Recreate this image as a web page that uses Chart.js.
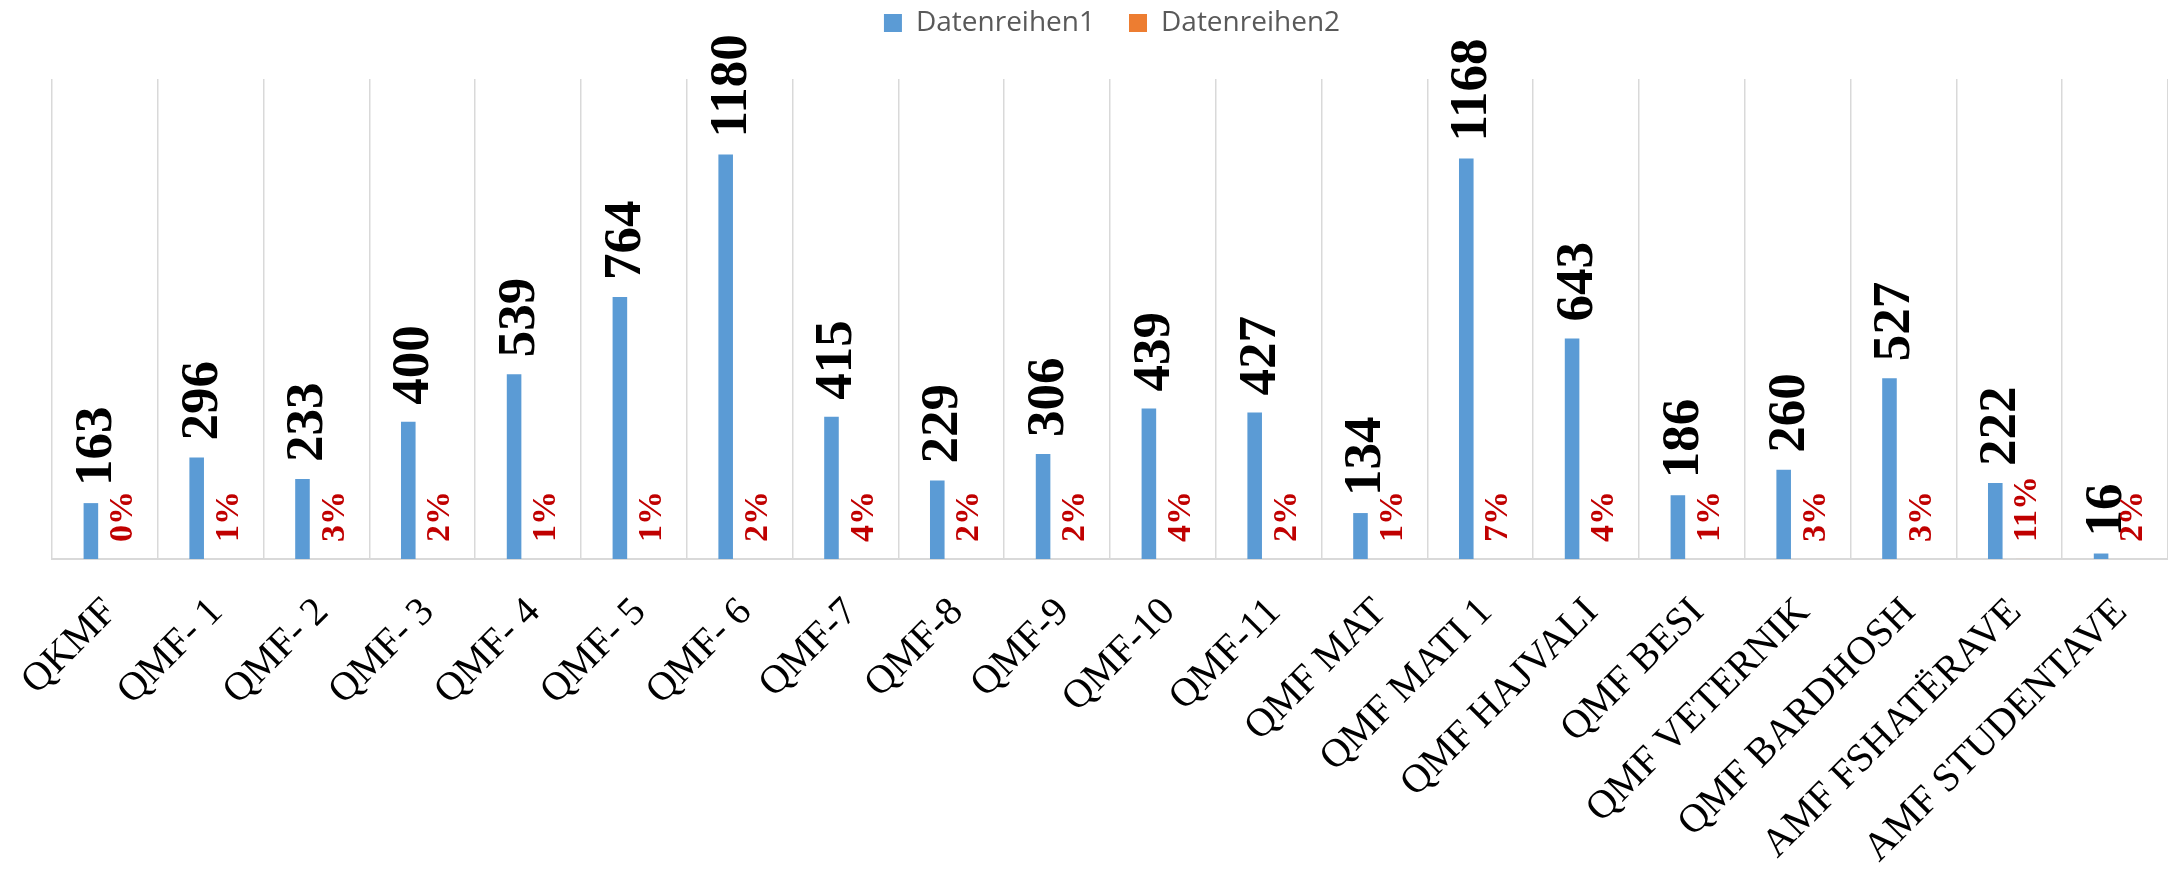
<!DOCTYPE html>
<html>
<head>
<meta charset="utf-8">
<script src="https://cdn.jsdelivr.net/npm/chart.js@4.4.0/dist/chart.umd.min.js"></script>
<style>
    html, body { margin: 0; padding: 0; background: #fff; overflow: hidden; }
</style>
</head>
<body>
<canvas id="grafico" width="2168" height="872"></canvas>
<script>
// ===== DADOS =====
const categorias = [
    "QKMF", "QMF- 1", "QMF- 2", "QMF- 3", "QMF- 4", "QMF- 5", "QMF- 6",
    "QMF-7", "QMF-8", "QMF-9", "QMF-10", "QMF-11", "QMF MAT", "QMF MATI 1",
    "QMF HAJVALI", "QMF BESI", "QMF VETERNIK", "QMF BARDHOSH",
    "AMF FSHATËRAVE", "AMF STUDENTAVE"
];
const reihe1 = [163, 296, 233, 400, 539, 764, 1180, 415, 229, 306, 439, 427, 134, 1168, 643, 186, 260, 527, 222, 16];
// em %
const reihe2 = [0, 1, 3, 2, 1, 1, 2, 4, 2, 2, 4, 2, 1, 7, 4, 1, 3, 3, 11, 2];
const yMax = 1400;

// ===== RÓTULOS DAS BARRAS =====
const rotulos = {
    id: "rotulos",
    afterDatasetsDraw(chart) {
        const ctx = chart.ctx;
        const zero = chart.scales.y.getPixelForValue(0);

        ctx.save();
        ctx.textAlign = "left";
        ctx.textBaseline = "alphabetic";

        chart.getDatasetMeta(0).data.forEach((bar, i) => {
            ctx.save();
            ctx.translate(bar.x + 20, bar.y - 17);
            ctx.rotate(-Math.PI / 2);
            ctx.font = 'bold 53px "Liberation Serif"';
            ctx.fillStyle = "#000000";
            ctx.fillText(String(reihe1[i]), 0, 0);
            ctx.restore();
        });

        chart.getDatasetMeta(1).data.forEach((bar, i) => {
            ctx.save();
            ctx.translate(bar.x + 13, zero - 17);
            ctx.rotate(-Math.PI / 2);
            ctx.font = 'bold 34px "Liberation Serif"';
            ctx.fillStyle = "#C00000";
            ctx.fillText(reihe2[i] + "%", 0, 0);
            ctx.restore();
        });

        ctx.restore();
    }
};

// legenda mais alta (espaço acima da área do gráfico)
const alturaLegenda = {
    id: "alturaLegenda",
    beforeInit(chart) {
        const fitOriginal = chart.legend.fit;
        chart.legend.fit = function () {
            fitOriginal.call(this);
            this.height = 104;
        };
    }
};

new Chart(document.getElementById("grafico"), {
    type: "bar",
    data: {
        labels: categorias,
        datasets: [
            {
                label: "Datenreihen1",
                data: reihe1,
                backgroundColor: "#5B9BD5",
                borderWidth: 0
            },
            {
                label: "Datenreihen2",
                data: reihe2.map(p => p / 100),
                backgroundColor: "#ED7D31",
                borderWidth: 0
            }
        ]
    },
    options: {
        responsive: false,
        animation: false,
        categoryPercentage: 0.53,
        barPercentage: 0.52,
        layout: {
            padding: { left: 52, right: -4, top: -25, bottom: 0 }
        },
        plugins: {
            legend: {
                position: "top",
                labels: {
                    boxWidth: 18,
                    boxHeight: 18,
                    padding: 34,
                    color: "#595959",
                    font: { family: '"Open Sans"', size: 28 }
                }
            },
            tooltip: { enabled: false }
        },
        scales: {
            x: {
                grid: { color: "#d9d9d9", lineWidth: 1.5, drawTicks: false, offset: true },
                border: { color: "#d9d9d9", width: 2 },
                ticks: {
                    color: "#000000",
                    font: { family: '"Liberation Serif"', size: 40 },
                    minRotation: 45,
                    maxRotation: 45,
                    autoSkip: false,
                    padding: 30,
                    labelOffset: 6
                },
                afterFit(scale) {
                    scale.height = 313;
                    scale.paddingLeft = 0;
                    scale.paddingRight = 0;
                }
            },
            y: {
                display: false,
                min: 0,
                max: yMax
            }
        }
    },
    plugins: [rotulos, alturaLegenda]
});
</script>
</body>
</html>
